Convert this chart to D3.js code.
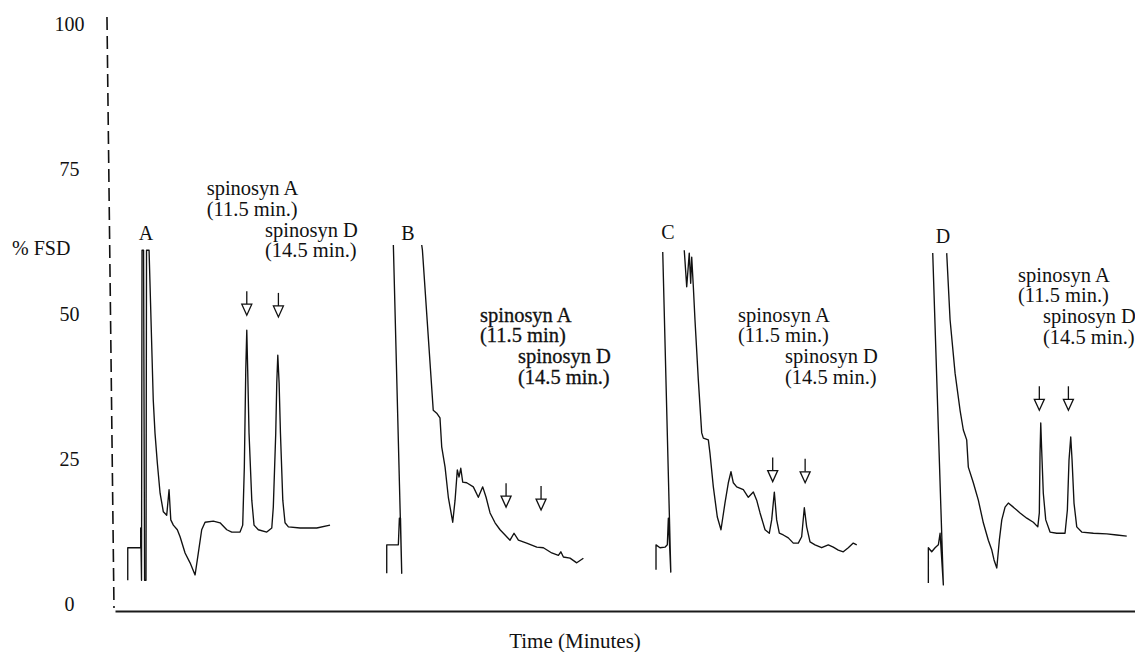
<!DOCTYPE html>
<html>
<head>
<meta charset="utf-8">
<script src="https://cdn.jsdelivr.net/npm/d3@7"></script>
<style>
body { margin: 0; background: #fff; }
svg text { font-family: "Liberation Serif", "Times New Roman", serif; fill: #111; }
</style>
</head>
<body>
<svg id="chart"></svg>
<script>
"use strict";

const yTicks = [0, 25, 50, 75, 100];

const panels = ["A", "B", "C", "D"];
// start of each run on the shared time strip (minutes)
const panelStart = [1.25, 26.64, 53.04, 79.74];

// [minutes after start, % FSD], null = pen off scale
const traceA = [
    [0, 4.1], [0, 9.7], [1.27, 9.7], [1.27, 13.1], [1.35, 4.1], [1.40, 61], [1.55, 61], [1.65, 4.1],
    [1.79, 4.1], [1.84, 61], [2.09, 61], [2.50, 35.2], [2.67, 29.5], [2.90, 24.3], [3.17, 19.1],
    [3.49, 15.9], [3.82, 15.3], [4.05, 19.7], [4.22, 14.5], [4.47, 13.6], [4.86, 12.8], [5.13, 11.6],
    [5.62, 8.8], [6.11, 7.1], [6.60, 5.0], [6.92, 8.8], [7.25, 12.8], [7.58, 14.1], [8.39, 14.3],
    [9.05, 14.0], [9.71, 12.8], [10.20, 12.4], [11.01, 12.4], [11.27, 13.6], [11.43, 23.6],
    [11.57, 40.3], [11.67, 47.2], [11.76, 40.3], [11.89, 29.5], [12.16, 17.9], [12.38, 13.6],
    [12.80, 12.8], [13.63, 12.4], [14.12, 13.1], [14.27, 16.7], [14.51, 29.5], [14.61, 38.1],
    [14.71, 42.9], [14.84, 38.1], [14.97, 29.5], [15.20, 17.9], [15.42, 14.0], [15.75, 13.3],
    [16.90, 13.1], [18.53, 13.1], [19.83, 13.6]
];
const traceB = [
    [0, 5.3], [0, 10.2], [1.14, 10.2], [1.24, 14.8], [1.35, 14.8], [1.47, 5.3], [0.65, 61.9], null,
    [3.43, 61.9], [3.50, 61.0], [4.56, 33.4], [4.90, 32.9], [5.22, 32.1], [5.39, 27.1], [5.72, 23.6],
    [6.04, 18.4], [6.47, 14.1], [6.70, 17.9], [6.92, 23.1], [7.09, 21.9], [7.26, 23.4], [7.45, 21.0],
    [7.84, 20.9], [8.49, 20.2], [8.98, 18.4], [9.41, 20.2], [9.74, 18.4], [10.13, 15.7], [10.62, 14.0],
    [11.11, 12.8], [11.60, 11.9], [12.09, 11.0], [12.48, 12.2], [12.91, 11.0], [13.72, 10.5],
    [14.71, 9.8], [15.36, 9.7], [16.18, 8.8], [16.83, 8.4], [17.07, 9.0], [17.32, 8.1], [17.97, 7.9],
    [18.63, 7.1], [19.28, 7.9]
];
const traceC = [
    [0, 5.9], [0, 10.2], [0.39, 9.7], [0.88, 9.8], [1.11, 10.2], [1.21, 14.8], [1.45, 5.5], [0.66, 60.7], null,
    [2.77, 61.0], [3.01, 54.7], [3.26, 60.5], [3.40, 55.3], [3.50, 59.8], [3.66, 54.7], [3.82, 49.0],
    [4.15, 38.6], [4.48, 29.5], [4.64, 28.6], [5.13, 28.3], [5.29, 26.0], [5.62, 20.2], [6.01, 15.0],
    [6.37, 12.8], [6.76, 17.4], [7.09, 20.9], [7.35, 22.8], [7.58, 20.9], [7.91, 20.2], [8.56, 19.7],
    [9.05, 18.4], [9.54, 19.3], [9.87, 17.9], [10.20, 15.7], [10.69, 12.8], [11.11, 12.2], [11.34, 14.5],
    [11.60, 19.3], [11.83, 14.5], [12.09, 12.2], [12.48, 11.9], [12.97, 11.4], [13.46, 10.5],
    [13.95, 10.5], [14.28, 11.6], [14.54, 16.6], [14.77, 13.3], [15.10, 10.7], [15.59, 10.2],
    [16.24, 9.7], [16.89, 10.2], [17.38, 9.8], [17.87, 9.3], [18.36, 9.0], [18.85, 9.7], [19.34, 10.5],
    [19.68, 10.2]
];
const traceD = [
    [0, 3.6], [0, 9.7], [0.33, 9.0], [0.66, 9.7], [0.98, 10.2], [1.15, 12.2], [1.47, 3.3], [0.43, 60.5], null,
    [1.80, 60.5], [2.13, 49.0], [2.62, 39.8], [3.11, 33.4], [3.43, 30.0], [3.76, 28.3], [3.92, 23.6],
    [4.41, 20.9], [4.90, 17.9], [5.39, 14.0], [5.88, 11.0], [6.22, 9.3], [6.44, 7.6], [6.71, 6.2],
    [6.96, 11.0], [7.20, 14.5], [7.52, 16.7], [7.84, 17.4], [8.33, 16.7], [8.99, 15.7], [9.65, 14.8],
    [10.29, 14.1], [10.73, 13.3], [10.88, 15.7], [10.95, 26.0], [11.02, 31.2], [11.11, 26.6],
    [11.27, 19.1], [11.51, 14.5], [11.93, 12.4], [12.59, 12.2], [13.40, 12.2], [13.63, 16.2],
    [13.79, 24.8], [13.96, 28.8], [14.09, 24.8], [14.28, 17.4], [14.55, 13.3], [15.04, 12.4],
    [16.18, 12.2], [17.49, 12.1], [18.47, 11.9], [19.45, 11.7]
];
const traces = [traceA, traceB, traceC, traceD];

// peak markers: minutes after start, % FSD at arrow tip
const arrowTimes = [[11.67, 14.77], [11.70, 15.13], [11.44, 14.62], [10.88, 13.73]];
const arrowLevels = [[49.8, 49.5], [16.7, 16.2], [21.1, 20.9], [33.4, 33.4]];

const peakLabels = [
    ["spinosyn A", "(11.5 min.)", "spinosyn D", "(14.5 min.)"],
    ["spinosyn A", "(11.5 min)", "spinosyn D", "(14.5 min.)"],
    ["spinosyn A", "(11.5 min.)", "spinosyn D", "(14.5 min.)"],
    ["spinosyn A", "(11.5 min.)", "spinosyn D", "(14.5 min.)"]
];

const yTitle = "% FSD";
const xTitle = "Time (Minutes)";


let width = 1135, height = 652;
let svg = d3.select("#chart").attr("width", width).attr("height", height);

let x = d3.scaleLinear().domain([0, 100]).range([115, 1135]);
let y = d3.scaleLinear().domain([0, 100]).range([604, 24]);

// y axis: labels only, the dashed rule is drawn slightly skewed like the scan
let yAxis = svg.append("g")
    .attr("transform", "translate(110.5,0)")
    .call(d3.axisLeft(y).tickValues(yTicks).tickSize(0).tickPadding(41));
yAxis.select(".domain").remove();
yAxis.selectAll("text")
    .attr("text-anchor", "middle")
    .attr("x", -41)
    .style("font-size", "20px")
    .style("font-family", "'Liberation Serif', serif");

svg.append("g")
    .attr("transform", `translate(110.5,0) rotate(-0.68, 0, ${y(50)})`)
    .append("line")
    .attr("x1", 0).attr("x2", 0)
    .attr("y1", y(101.2)).attr("y2", y(-0.7))
    .attr("stroke", "#111")
    .attr("stroke-width", 1.6)
    .attr("stroke-dasharray", "13,6");

let xAxis = svg.append("g")
    .attr("transform", "translate(0,611)")
    .call(d3.axisBottom(x).tickValues([]).tickSizeOuter(0));
xAxis.select(".domain")
    .attr("stroke", "#1a1a1a")
    .attr("stroke-width", 2.2);

svg.append("text")
    .attr("x", 12).attr("y", 255)
    .style("font-size", "20px")
    .text(yTitle);

svg.append("text")
    .attr("x", 575).attr("y", 648)
    .attr("text-anchor", "middle")
    .style("font-size", "21px")
    .text(xTitle);

// label layout per panel: [time of line 1-2, time of line 3-4, % FSD of first baseline]
let labelAt = [[7.74, 13.46, 70.5], [9.14, 12.87, 48.7], [8.04, 12.65, 48.7], [8.79, 11.24, 55.6]];
let letterAt = [[1.79, 62.8], [2.08, 62.8], [1.17, 63.0], [1.44, 62.2]];

panels.forEach((name, i) => {
    let t0 = panelStart[i];
    let line = d3.line()
        .defined(d => d !== null)
        .x(d => x(t0 + d[0]))
        .y(d => y(d[1]));

    let g = svg.append("g").attr("class", "panel");

    g.append("path")
        .datum(traces[i])
        .attr("d", line)
        .attr("fill", "none")
        .attr("stroke", "#111")
        .attr("stroke-width", 1.35)
        .attr("stroke-linejoin", "round");

    g.append("text")
        .attr("x", x(t0 + letterAt[i][0]))
        .attr("y", y(letterAt[i][1]))
        .attr("text-anchor", "middle")
        .style("font-size", "20px")
        .text(name);

    arrowTimes[i].forEach((t, k) => {
        let ax = x(t0 + t);
        let tip = y(arrowLevels[i][k]);
        g.append("line")
            .attr("x1", ax).attr("x2", ax)
            .attr("y1", tip - 24).attr("y2", tip - 11)
            .attr("stroke", "#111").attr("stroke-width", 1.3);
        g.append("path")
            .attr("d", `M${ax - 5},${tip - 11}L${ax + 5},${tip - 11}L${ax},${tip}Z`)
            .attr("fill", "#fff")
            .attr("stroke", "#111")
            .attr("stroke-width", 1.3);
    });

    let la = labelAt[i];
    let base = y(la[2]);
    peakLabels[i].forEach((txt, k) => {
        let tx = x(t0 + (k < 2 ? la[0] : la[1]));
        let t = g.append("text")
            .attr("x", tx)
            .attr("y", base + k * 20.7)
            .style("font-size", "20.5px")
            .text(txt);
        if (i === 1) {
            t.attr("stroke", "#111").attr("stroke-width", 0.3);
        }
    });
});
</script>
</body>
</html>
